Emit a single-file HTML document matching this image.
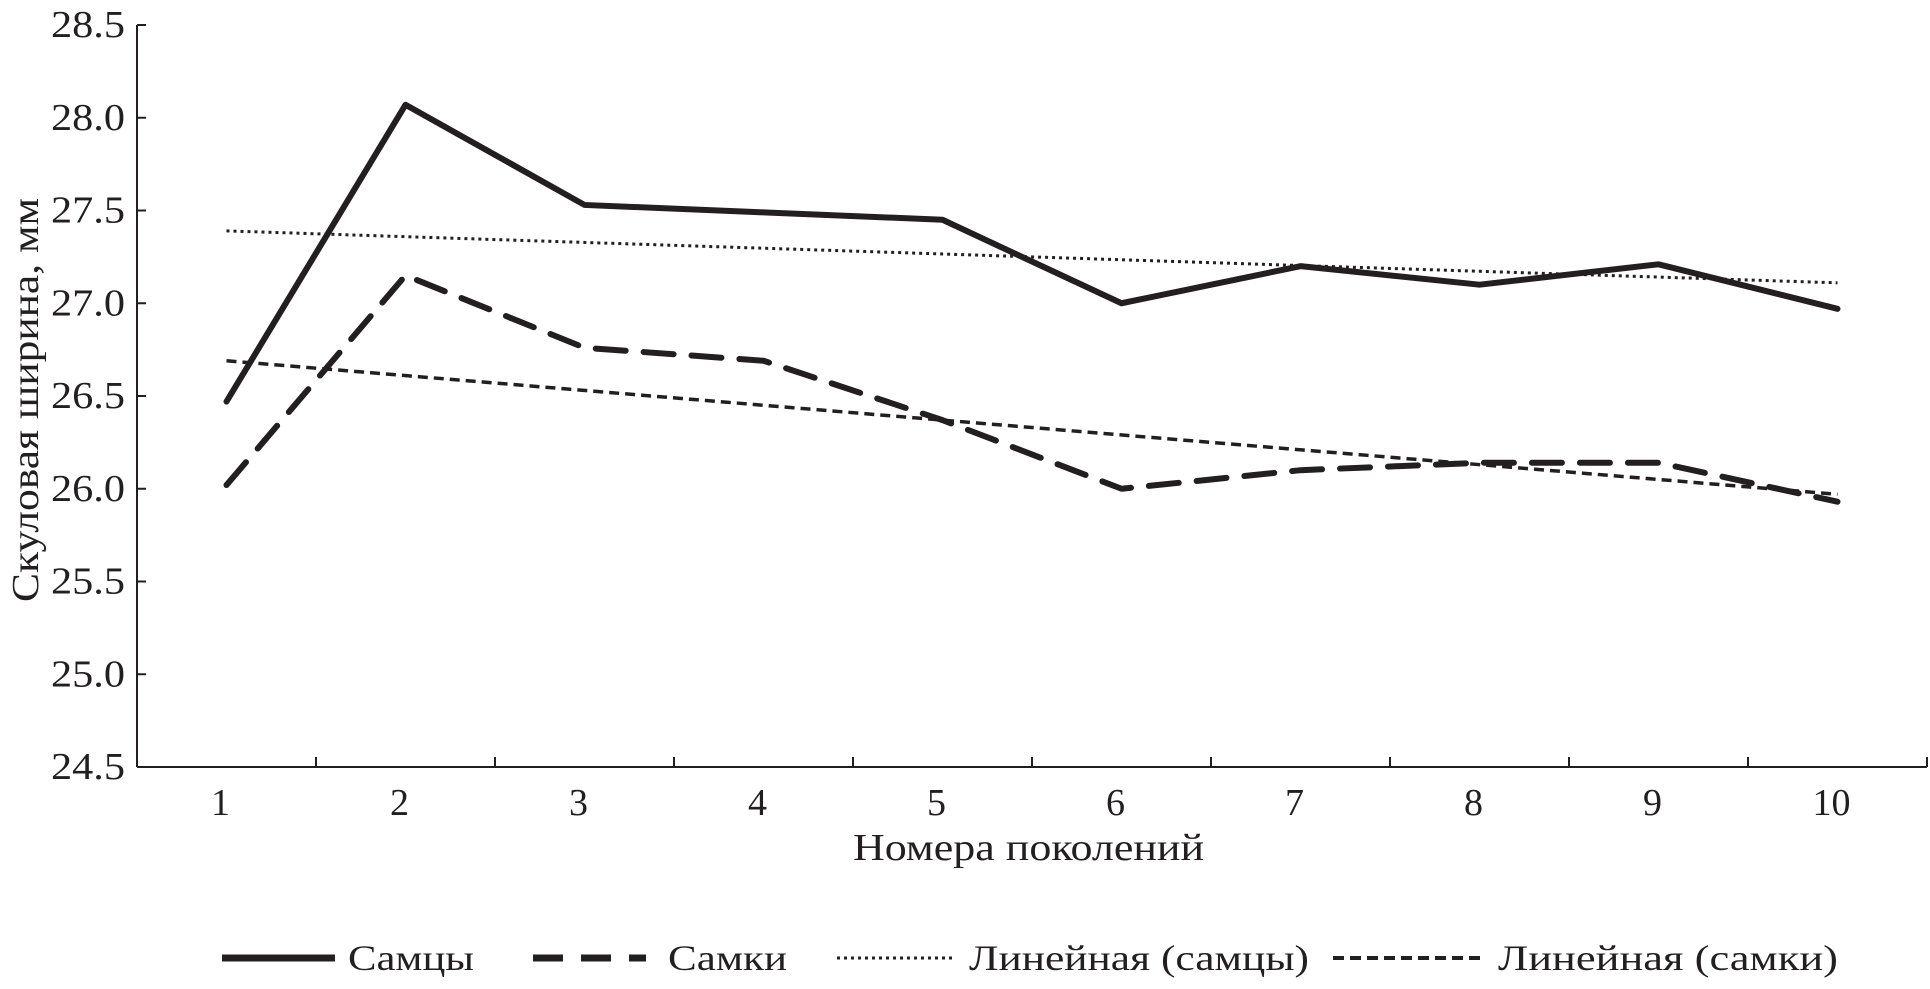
<!DOCTYPE html>
<html><head><meta charset="utf-8"><style>
html,body{margin:0;padding:0;background:#fff;}
svg{display:block;}
text{font-family:"Liberation Serif",serif;fill:#231f20;}
</style></head><body>
<svg id="chart" width="1930" height="989" viewBox="0 0 1930 989">
<g id="axes"></g>
<g id="series"></g>
<text x="853" y="860" font-size="38" textLength="351" lengthAdjust="spacingAndGlyphs">Номера поколений</text>
<text transform="translate(38,400) rotate(-90)" text-anchor="middle" font-size="38" textLength="404" lengthAdjust="spacingAndGlyphs">Скуловая ширина, мм</text>
<g>
<g>
<line x1="222" y1="958" x2="335" y2="958" stroke="#231f20" stroke-width="7"/>
<text x="348" y="970" font-size="36" textLength="126" lengthAdjust="spacingAndGlyphs">Самцы</text></g>
<g>
<line x1="533" y1="958" x2="646" y2="958" stroke="#231f20" stroke-width="7" stroke-dasharray="30,18"/>
<text x="668" y="970" font-size="36" textLength="119" lengthAdjust="spacingAndGlyphs">Самки</text></g>
<g>
<line x1="837" y1="958" x2="954" y2="958" stroke="#231f20" stroke-width="3" stroke-dasharray="3,4"/>
<text x="969" y="970" font-size="36" textLength="340" lengthAdjust="spacingAndGlyphs">Линейная (самцы)</text></g>
<g>
<line x1="1333" y1="958" x2="1483" y2="958" stroke="#231f20" stroke-width="4" stroke-dasharray="11,6"/>
<text x="1498" y="970" font-size="36" textLength="340" lengthAdjust="spacingAndGlyphs">Линейная (самки)</text></g>
</g>
</svg>
<script>
const categories=[1,2,3,4,5,6,7,8,9,10];
const males=[26.47,28.07,27.53,27.49,27.45,27.0,27.2,27.1,27.21,26.97];
const females=[26.02,27.15,26.76,26.69,26.37,26.0,26.1,26.14,26.14,25.93];
const trendMales=[27.39,27.11];
const trendFemales=[26.69,25.97];
const yTicks=[24.5,25.0,25.5,26.0,26.5,27.0,27.5,28.0,28.5];
const yTickLabels=["24.5","25.0","25.5","26.0","26.5","27.0","27.5","28.0","28.5"];

const NS="http://www.w3.org/2000/svg";
const L=137,R=1927,T=25,B=767,yMin=24.5,yMax=28.5;
const bw=(R-L)/categories.length;
function xs(i){return L+bw*(i+0.5);}
function ys(v){return B-(v-yMin)/(yMax-yMin)*(B-T);}
function mk(tag,attrs,parent){const e=document.createElementNS(NS,tag);for(const k in attrs)e.setAttribute(k,attrs[k]);parent.appendChild(e);return e;}
const ax=document.getElementById('axes');
let e=mk('line',{x1:L,y1:T,x2:L,y2:B,stroke:'#231f20','stroke-width':2},ax);


e=mk('line',{x1:L,y1:B,x2:R,y2:B,stroke:'#231f20','stroke-width':2},ax);


yTicks.forEach((v,i)=>{
  const t=mk('line',{x1:L,y1:ys(v),x2:L+9,y2:ys(v),stroke:'#231f20','stroke-width':2},ax);
  
  
  const tx=mk('text',{x:L-86,y:ys(v)+12,'font-size':38,textLength:74,lengthAdjust:'spacingAndGlyphs'},ax);
  tx.textContent=yTickLabels[i];
  
  
});
for(let i=1;i<=categories.length;i++){
  const x=L+bw*i;
  const t=mk('line',{x1:x,y1:B,x2:x,y2:B-10,stroke:'#231f20','stroke-width':2},ax);
  
  
}
categories.forEach((c,i)=>{
  const tx=mk('text',{x:xs(i)-6,y:815,'text-anchor':'middle','font-size':38},ax);
  tx.textContent=c;
  
  
});
const sg=document.getElementById('series');
function poly(vals,style,name){
  const p=mk('polyline',Object.assign({points:vals.map((v,i)=>xs(i)+','+ys(v)).join(' '),fill:'none',stroke:'#231f20','stroke-linejoin':'round'},style),sg);
  
  
}
function trend(vals,style,name){
  const n=categories.length-1;
  const l=mk('line',Object.assign({x1:xs(0),y1:ys(vals[0]),x2:xs(n),y2:ys(vals[1]),stroke:'#231f20'},style),sg);
  
  
}
trend(trendMales,{'stroke-width':3,'stroke-dasharray':'3,4'},'trend-line-males');
trend(trendFemales,{'stroke-width':3.5,'stroke-dasharray':'10,6'},'trend-line-females');
poly(males,{'stroke-width':6,'stroke-linecap':'round'},'line-males');
poly(females,{'stroke-width':6,'stroke-dasharray':'30,18','stroke-linecap':'round'},'line-females');
</script>
</body></html>
